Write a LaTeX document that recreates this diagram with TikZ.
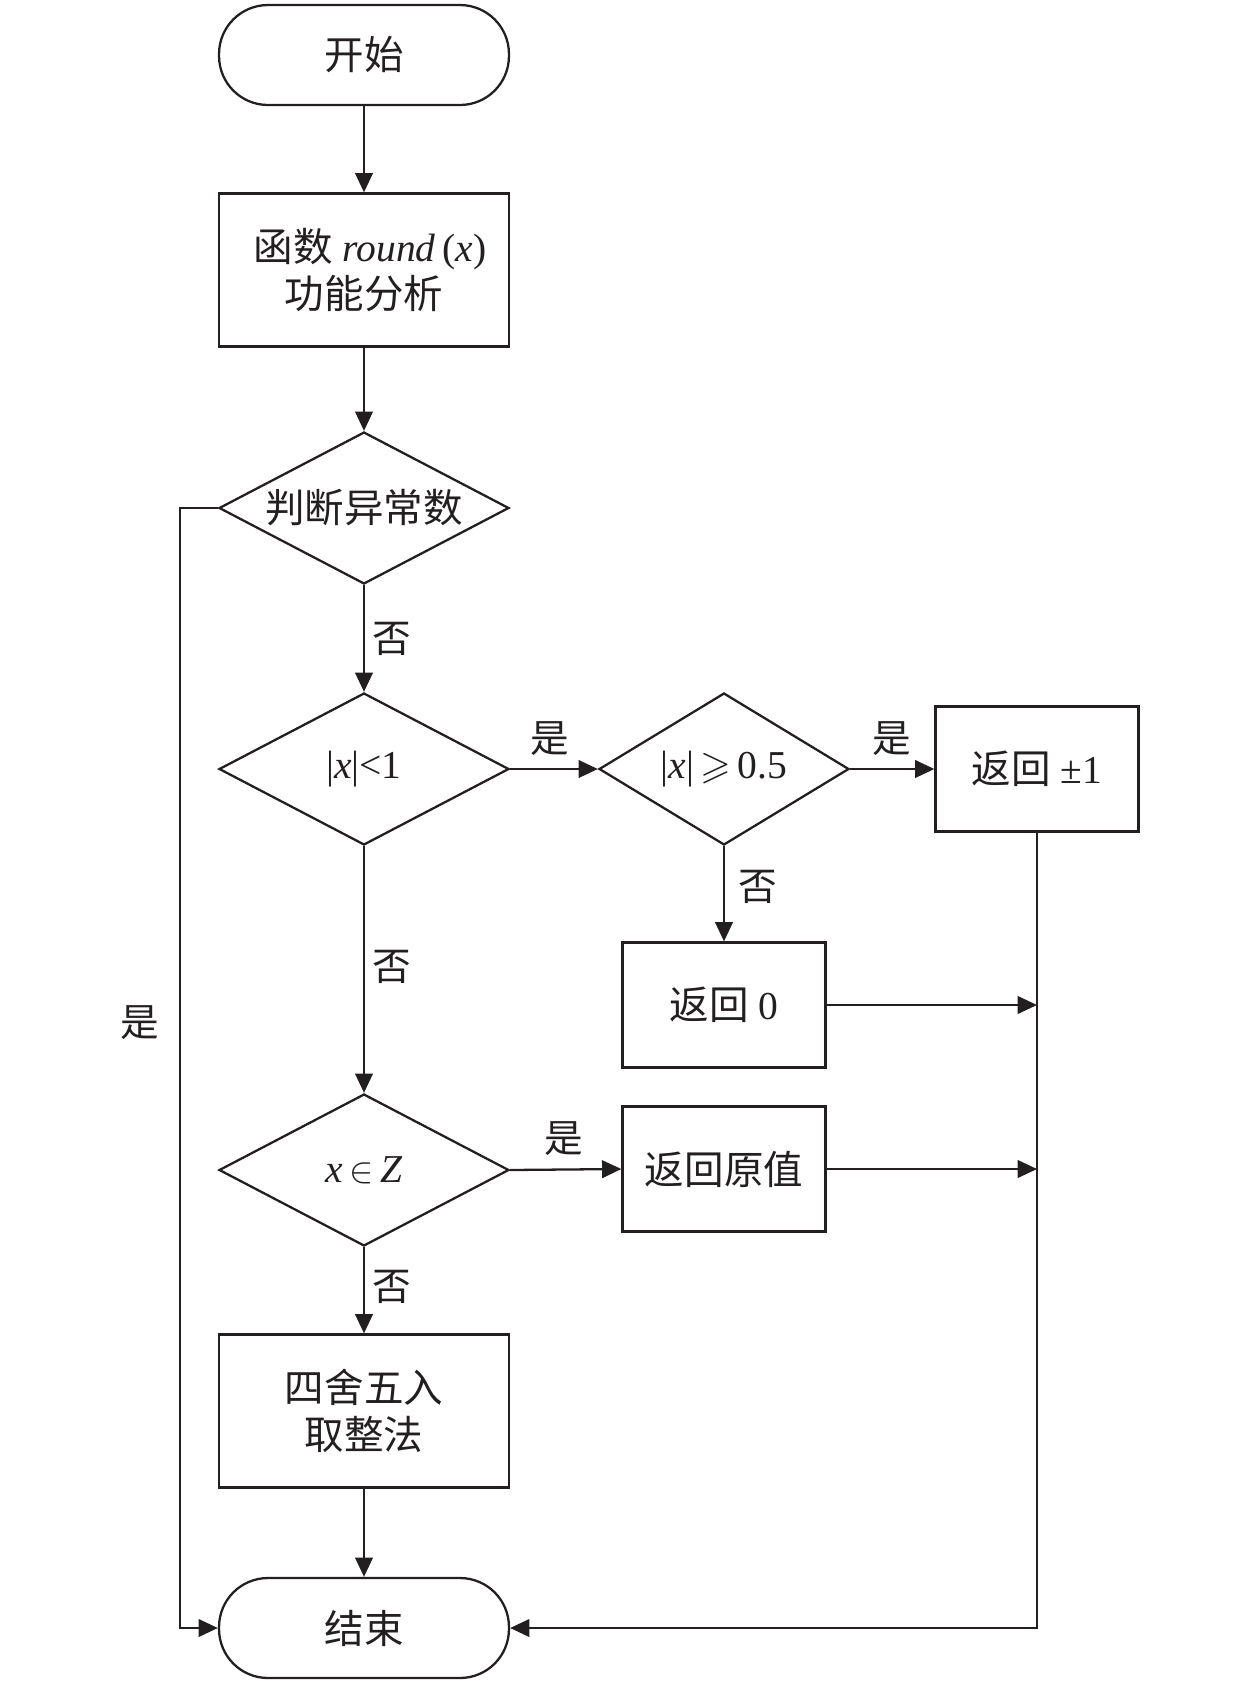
\documentclass[tikz,border=0pt]{standalone}
\usepackage{amssymb}
\usepackage{fontspec}
\setmainfont{Liberation Serif}
\newfontfamily\cjk{Noto Sans CJK SC}
\usetikzlibrary{shapes.geometric,arrows.meta}
\definecolor{ink}{HTML}{231F20}
\tikzset{
  base/.style={draw=ink, line width=1.3pt, text=ink, font=\fontsize{22.5}{27}\selectfont, align=center},
  term/.style={base, rectangle, rounded corners=0.98cm, minimum width=5.8cm, minimum height=2.0cm},
  proc/.style={base, rectangle, minimum width=5.8cm, minimum height=3.06cm},
  sproc/.style={base, rectangle, minimum width=4.06cm, minimum height=2.5cm},
  decide/.style={base, diamond, shape aspect=1.9, inner sep=0pt, minimum width=5.8cm, minimum height=3.04cm},
  sdecide/.style={base, diamond, shape aspect=1.65, inner sep=0pt, minimum width=5.0cm, minimum height=3.04cm},
  lab/.style={text=ink, font=\fontsize{22}{26}\selectfont\cjk, inner sep=0pt},
  arr/.style={draw=ink, line width=1.3pt, -{Triangle[length=11pt,width=10pt]}},
  ln/.style={draw=ink, line width=1.3pt}
}
\begin{document}
\begin{tikzpicture}[x=0.02cm,y=-0.02cm]
\useasboundingbox (0,0) rectangle (1260,1685);
\node[term] (start) at (364,55) {\cjk 开始};
\node[proc] (ana) at (364,270) {\hspace*{0.3em}{\cjk 函数} \textit{round}\,(\textit{x})\\{\cjk 功能分析}};
\node[decide] (d1) at (364,508) {\cjk 判断异常数};
\node[decide] (d2) at (364,769) {|\textit{x}|<1};
\node[sdecide] (d3) at (724,769) {|\textit{x}|\,$\geqslant$\,0.5};
\node[sproc] (b1) at (1037,769) {{\cjk 返回} ±1};
\node[sproc] (b0) at (724,1005) {{\cjk 返回} 0};
\node[decide] (d4) at (364,1170) {\textit{x}\,$\in$\,\textit{Z}};
\node[sproc] (bo) at (724,1169) {\cjk 返回原值};
\node[proc] (rnd) at (364,1411) {{\cjk 四舍五入}\\{\cjk 取整法}};
\node[term] (stop) at (364,1628) {\cjk 结束};

\coordinate (lx) at (180,1628);
\coordinate (j0) at (b1.south |- b0.east);
\coordinate (jo) at (b1.south |- bo.east);

\draw[arr] (start) -- (ana);
\draw[arr] (ana) -- (d1);
\draw[arr] (d1) -- (d2);
\draw[arr] (d1.west) -| (lx) -- (stop.west);
\draw[arr] (d2.east) -- (d3.west);
\draw[arr] (d3.east) -- (b1.west);
\draw[arr] (d3.south) -- (b0.north);
\draw[arr] (d2.south) -- (d4.north);
\draw[arr] (d4.east) -- (bo.west);
\draw[arr] (d4.south) -- (rnd.north);
\draw[arr] (rnd) -- (stop);
\draw[arr] (b1.south) |- (stop.east);
\draw[arr] (b0.east) -- (j0);
\draw[arr] (bo.east) -- (jo);

\node[lab] (n1) at (392,639) {否};
\node[lab] (y1) at (140,1023) {是};
\node[lab] (y2) at (550,739) {是};
\node[lab] (y3) at (892,739) {是};
\node[lab] (n2) at (758,887) {否};
\node[lab] (n3) at (392,967) {否};
\node[lab] (y4) at (564,1139) {是};
\node[lab] (n4) at (392,1287) {否};
\end{tikzpicture}
\end{document}
